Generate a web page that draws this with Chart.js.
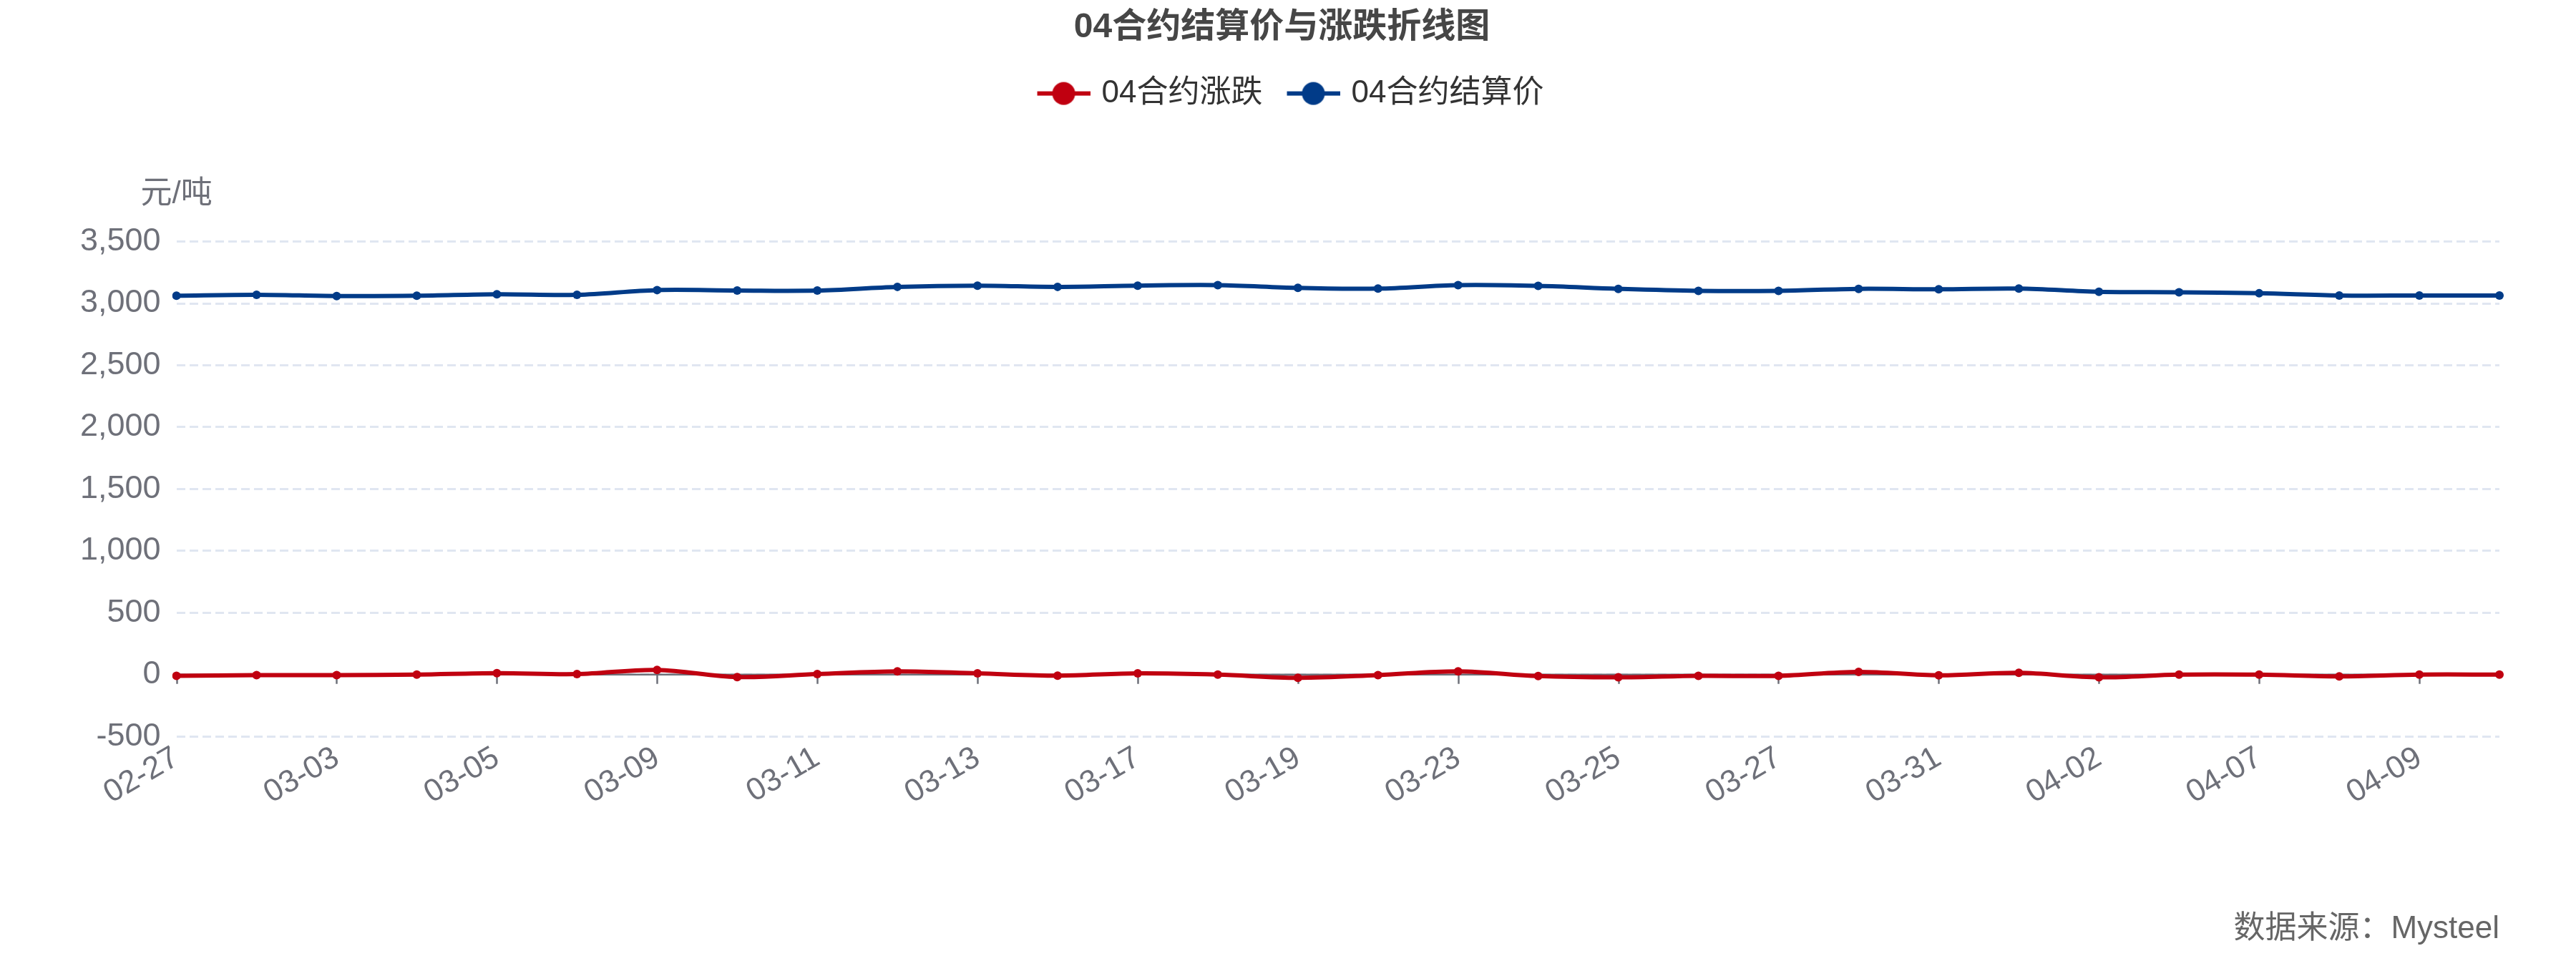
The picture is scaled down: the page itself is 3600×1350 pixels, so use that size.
<!DOCTYPE html>
<html>
<head>
<meta charset="utf-8">
<title>04合约结算价与涨跌折线图</title>
<script src="https://cdn.jsdelivr.net/npm/chart.js@4.4.1/dist/chart.umd.min.js"></script>
<style>
  html, body { margin: 0; padding: 0; background: #fff; }
  #wrap { width: 3600px; height: 1350px; }
</style>
</head>
<body>
<div id="wrap"><canvas id="myChart" width="3600" height="1350"></canvas></div>
<script>
// 日期 (交易日)
const dates = [
  '02-27', '02-28', '03-03', '03-04', '03-05', '03-06', '03-09', '03-10', '03-11', '03-12',
  '03-13', '03-16', '03-17', '03-18', '03-19', '03-20', '03-23', '03-24', '03-25', '03-26',
  '03-27', '03-30', '03-31', '04-01', '04-02', '04-03', '04-07', '04-08', '04-09', '04-10'
];

// 04合约涨跌 (元/吨)
const changeValues = [
  -10, -4, -4, 0, 12, 4, 38, -20, 4, 26,
  10, -8, 10, 0, -26, -4, 26, -12, -22, -10,
  -10, 22, -6, 14, -22, 0, 0, -14, 0, 0
];

// 04合约结算价 (元/吨)
const settleValues = [
  3062, 3070, 3060, 3062, 3074, 3070, 3108, 3104, 3104, 3134,
  3144, 3134, 3144, 3148, 3126, 3120, 3148, 3142, 3118, 3102,
  3102, 3118, 3114, 3120, 3094, 3090, 3082, 3064, 3064, 3064
];

const seriesNames = ['04合约涨跌', '04合约结算价'];
const seriesColors = ['#c00010', '#013b88'];

// y축 범위
const yMin = -500;
const yMax = 3500;
const yStep = 500;

const axisColor = '#6e7079';
const fontFamily = '"Liberation Sans", "Noto Sans CJK SC", sans-serif';

Chart.defaults.font.family = fontFamily;

// 범례용 마커 (선 + 원)
function makeMarker(color) {
  const c = document.createElement('canvas');
  c.width = 104;
  c.height = 36;
  const g = c.getContext('2d');
  g.strokeStyle = color;
  g.lineWidth = 6;
  g.beginPath();
  g.moveTo(30, 18);
  g.lineTo(104, 18);
  g.stroke();
  g.fillStyle = color;
  g.beginPath();
  g.arc(67, 18, 16, 0, Math.PI * 2);
  g.fill();
  return c;
}
const markers = seriesColors.map(makeMarker);

// 0 위치의 x축 선과 눈금
const zeroAxisPlugin = {
  id: 'zeroAxis',
  beforeDatasetsDraw(chart) {
    const { ctx, chartArea, scales } = chart;
    const y0 = scales.y.getPixelForValue(0);
    ctx.save();
    ctx.strokeStyle = axisColor;
    ctx.lineWidth = 2.5;
    ctx.beginPath();
    ctx.moveTo(chartArea.left, y0);
    ctx.lineTo(chartArea.right, y0);
    for (let i = 0; i < dates.length; i += 2) {
      const x = Math.round(scales.x.getPixelForValue(i)) + 0.5;
      ctx.moveTo(x, y0);
      ctx.lineTo(x, y0 + 13);
    }
    ctx.stroke();
    ctx.restore();
  }
};

// y축 단위 표시
const unitPlugin = {
  id: 'unitLabel',
  afterDraw(chart) {
    const { ctx, chartArea } = chart;
    ctx.save();
    ctx.fillStyle = axisColor;
    ctx.font = '44px ' + fontFamily;
    ctx.textAlign = 'center';
    ctx.textBaseline = 'middle';
    ctx.fillText('元/吨', chartArea.left, chartArea.top - 66);
    ctx.restore();
  }
};

// 범례 아래 여백
const legendSpacing = {
  id: 'legendSpacing',
  beforeLayout(chart) {
    const legend = chart.legend;
    if (legend && !legend._spaced) {
      const origFit = legend.fit;
      legend.fit = function () {
        origFit.call(this);
        this.height += 175;
      };
      legend._spaced = true;
    }
  }
};

const ctx = document.getElementById('myChart').getContext('2d');
const myChart = new Chart(ctx, {
  type: 'line',
  data: {
    labels: dates,
    datasets: [
      {
        label: seriesNames[0],
        data: changeValues,
        borderColor: seriesColors[0],
        backgroundColor: seriesColors[0],
        borderWidth: 6,
        pointRadius: 6,
        pointHoverRadius: 6,
        pointBorderWidth: 0,
        tension: 0.35
      },
      {
        label: seriesNames[1],
        data: settleValues,
        borderColor: seriesColors[1],
        backgroundColor: seriesColors[1],
        borderWidth: 6,
        pointRadius: 6,
        pointHoverRadius: 6,
        pointBorderWidth: 0,
        tension: 0.35
      }
    ]
  },
  options: {
    responsive: false,
    animation: false,
    devicePixelRatio: 1,
    layout: {
      padding: { left: 90, right: 107, top: 0, bottom: 0 }
    },
    plugins: {
      title: {
        display: true,
        text: '04合约结算价与涨跌折线图',
        color: '#464646',
        font: { size: 48, weight: 'bold' },
        padding: { top: 10, bottom: 31 }
      },
      legend: {
        position: 'top',
        labels: {
          color: '#333',
          font: { size: 44 },
          usePointStyle: true,
          pointStyleWidth: 92,
          padding: 10,
          generateLabels(chart) {
            const items = Chart.defaults.plugins.legend.labels.generateLabels(chart);
            items.forEach((item, i) => { item.pointStyle = markers[i]; });
            return items;
          }
        }
      },
      subtitle: {
        display: true,
        position: 'bottom',
        align: 'end',
        text: '数据来源：Mysteel',
        color: '#666',
        font: { size: 44 },
        padding: { top: 141, bottom: 25 }
      },
      tooltip: { enabled: false }
    },
    scales: {
      x: {
        grid: { display: false },
        border: { display: false },
        ticks: {
          color: axisColor,
          font: { size: 44 },
          autoSkip: false,
          minRotation: 30,
          maxRotation: 30,
          padding: -4,
          callback(value, index) {
            return index % 2 === 0 ? dates[index] : '';
          }
        }
      },
      y: {
        min: yMin,
        max: yMax,
        grid: {
          color: '#e0e6f1',
          lineWidth: 3,
          drawTicks: false
        },
        border: { display: false, dash: [12, 6] },
        ticks: {
          stepSize: yStep,
          color: axisColor,
          font: { size: 45 },
          padding: 22
        }
      }
    }
  },
  plugins: [zeroAxisPlugin, unitPlugin, legendSpacing]
});
</script>
</body>
</html>
